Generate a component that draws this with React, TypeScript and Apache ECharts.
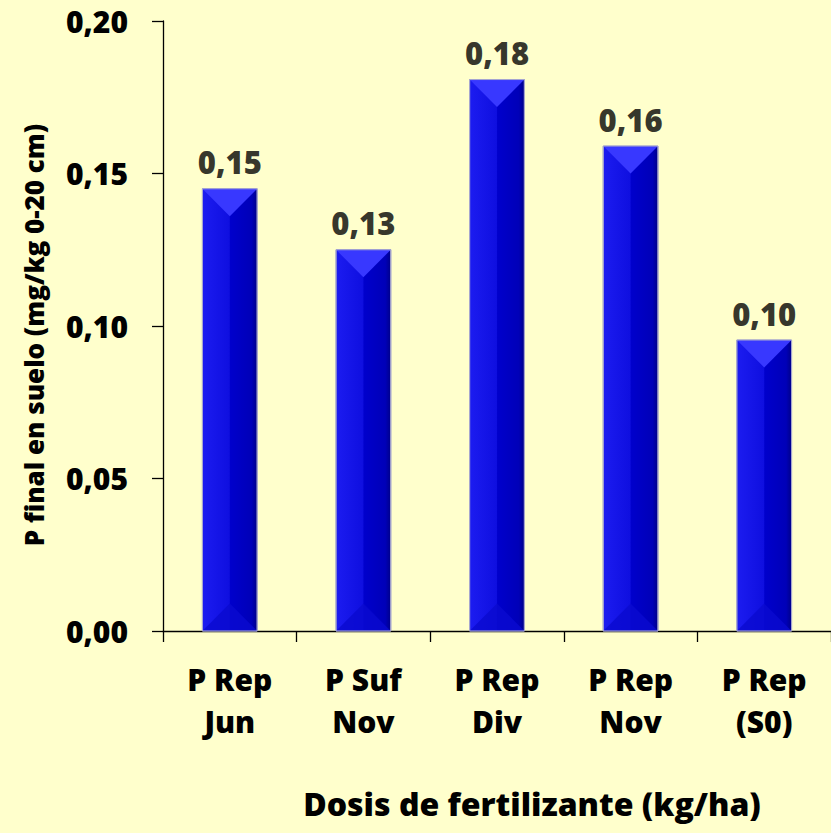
import React, { useEffect, useRef } from "react";
import * as echarts from "echarts";

const categories = ["P Rep\nJun", "P Suf\nNov", "P Rep\nDiv", "P Rep\nNov", "P Rep\n(S0)"];
const values = [0.145, 0.125, 0.1808, 0.159, 0.0954];
const valueLabels = ["0,15", "0,13", "0,18", "0,16", "0,10"];
const yTitle = "P final en suelo (mg/kg 0-20 cm)";
const xTitle = "Dosis de fertilizante (kg/ha)";

const FONT = "Open Sans";
const W = 800;

export default function App() {
  const ref = useRef<HTMLDivElement>(null);
  useEffect(() => {
    if (!ref.current) return;
    const chart = echarts.init(ref.current, null, { renderer: "svg" });
    const barData = values.map((v, i) => [i, v]);
    chart.setOption({
      animation: false,
      backgroundColor: "#FFFFCC",
      grid: { left: 163, right: -7, top: 21, bottom: 202 },
      xAxis: {
        type: "category",
        data: categories,
        boundaryGap: true,
        axisLine: { show: true, lineStyle: { color: "#000", width: 1.3 } },
        axisTick: { show: true, length: 11, alignWithLabel: false, lineStyle: { color: "#000", width: 1.3 } },
        axisLabel: {
          margin: 27,
          fontFamily: FONT,
          fontWeight: W,
          fontSize: 30,
          lineHeight: 42,
          color: "#000",
          interval: 0,
        },
      },
      yAxis: {
        type: "value",
        min: 0,
        max: 0.2,
        interval: 0.05,
        name: yTitle,
        nameLocation: "middle",
        nameGap: 116,
        nameTextStyle: {
          fontFamily: FONT,
          fontWeight: W,
          fontSize: 26,
          color: "#000",
          padding: [0, 18, 0, 0],
        },
        axisLine: { show: true, lineStyle: { color: "#000", width: 1.3 } },
        axisTick: { show: true, length: 11, lineStyle: { color: "#000", width: 1.3 } },
        splitLine: { show: false },
        axisLabel: {
          margin: 35,
          fontFamily: FONT,
          fontWeight: W,
          fontSize: 30,
          color: "#000",
          formatter: (v: number) => v.toFixed(2).replace(".", ","),
        },
      },
      graphic: [
        {
          type: "text",
          x: 532,
          y: 803,
          style: {
            text: xTitle,
            fontFamily: FONT,
            fontWeight: W,
            fontSize: 32,
            fill: "#000",
            align: "center",
            verticalAlign: "middle",
          },
        },
      ],
      series: [
        {
          type: "custom",
          data: barData,
          encode: { x: 0, y: 1 },
          renderItem: (params: any, api: any) => {
            const idx = api.value(0);
            const v = api.value(1);
            const top = api.coord([idx, v]);
            const base = api.coord([idx, 0]);
            const w = api.size([1, 0])[0] * 0.41;
            const x0 = top[0] - w / 2;
            const x1 = top[0] + w / 2;
            const y0 = top[1];
            const y1 = base[1];
            const d = Math.min(w / 2, (y1 - y0) / 2);
            return {
              type: "group",
              children: [
                {
                  type: "rect",
                  shape: { x: x0, y: y0, width: w, height: y1 - y0 },
                  style: {
                    fill: new echarts.graphic.LinearGradient(0, 0, 1, 0, [
                      { offset: 0, color: "#1c1cf0" },
                      { offset: 0.49, color: "#0f0fe0" },
                      { offset: 0.51, color: "#0000cc" },
                      { offset: 0.9, color: "#0000b8" },
                      { offset: 1, color: "#000088" },
                    ]),
                    stroke: "#9a9ac8",
                    lineWidth: 1,
                  },
                },
                {
                  type: "polygon",
                  shape: { points: [[x0, y0], [x1, y0], [top[0], y0 + d]] },
                  style: { fill: "#3838ff" },
                },
                {
                  type: "polygon",
                  shape: { points: [[x0, y1], [x1, y1], [top[0], y1 - d]] },
                  style: { fill: "#0a0ad0", opacity: 0.8 },
                },
                {
                  type: "rect",
                  shape: { x: x0, y: y0, width: w, height: y1 - y0 },
                  style: { fill: "none", stroke: "#a8a8d0", lineWidth: 1 },
                },
              ],
            };
          },
          z: 2,
        },
        {
          type: "scatter",
          data: barData,
          symbolSize: 0,
          silent: true,
          label: {
            show: true,
            position: "top",
            distance: 11,
            fontFamily: FONT,
            fontWeight: W,
            fontSize: 31,
            color: "#000",
            formatter: (p: any) => valueLabels[p.dataIndex],
          },
          z: 3,
        },
      ],
    });
    return () => chart.dispose();
  }, []);
  return (
    <div
      ref={ref}
      style={{ position: "fixed", left: 0, top: 0, width: 831, height: 833 }}
    />
  );
}
